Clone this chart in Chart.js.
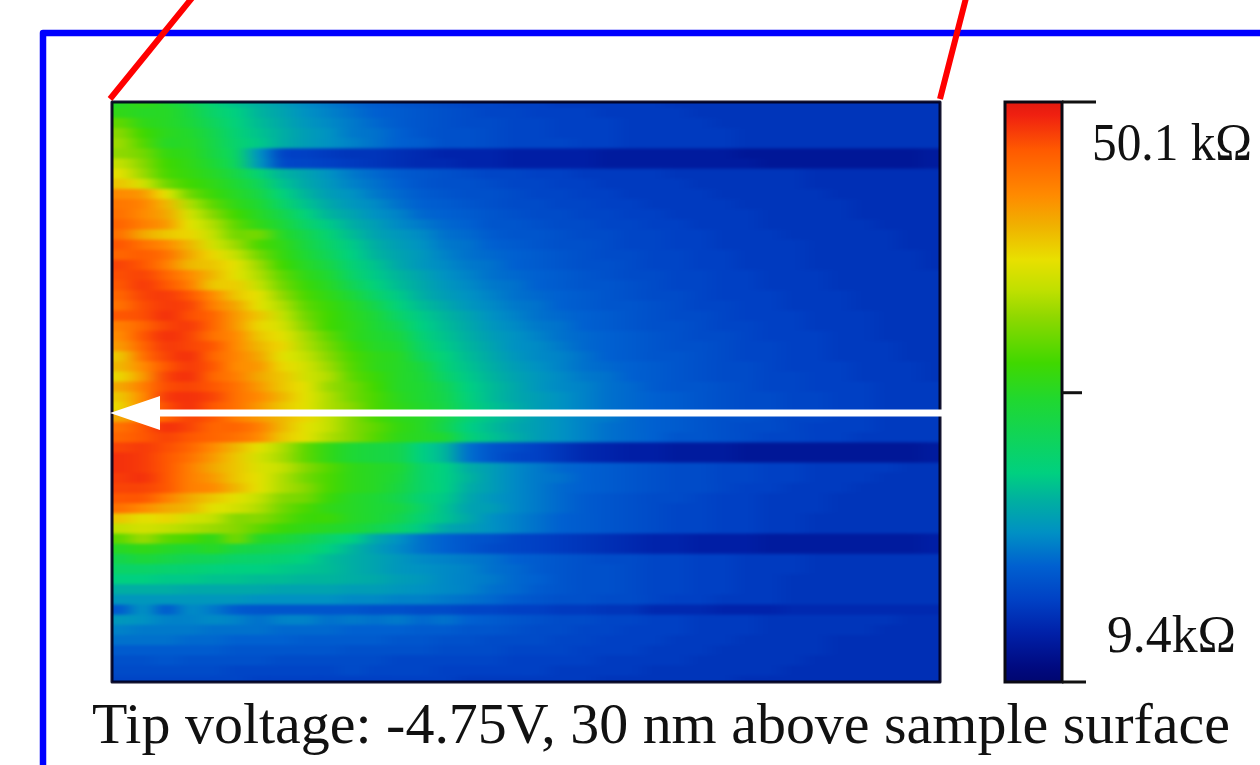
<!DOCTYPE html>
<html>
<head>
<meta charset="utf-8">
<title>Tip voltage map</title>
<script src="https://cdn.jsdelivr.net/npm/chart.js@4"></script>
<style>
  html, body { margin: 0; padding: 0; background: #fff; overflow: hidden; }
  canvas { position: absolute; top: 0; }
  #heat { left: 0; }
  #bar { left: 1000px; }
</style>
</head>
<body>
<canvas id="heat" width="1260" height="765"></canvas>
<canvas id="bar" width="260" height="765"></canvas>
<script>
// colour scale, value 0-100 from bottom to top
const stopValues = [0, 2.6, 8.4, 14, 20, 25.7, 31.4, 36, 48.6, 55, 63, 67.6, 72.8, 78.8, 84, 91.7, 97.8, 100];
const stopColors = ["#000670", "#000a80", "#0020a8", "#0040c4", "#0060d0", "#0090c4", "#00b0a0", "#00d080", "#20d830", "#40d800",
  "#90d800", "#c0e000", "#e8e000", "#f0b000", "#ff8a00", "#ff5a00", "#f02010", "#e01a10"];

const captionText = "Tip voltage: -4.75V, 30 nm above sample surface";
const barMin = 9.4;
const barMax = 50.1;
const barTicks = [9.4, 29.7, 50.1];
const barTickLengths = [24, 20, 34];

// one line per scan row, top to bottom, value on the 0-100 colour scale
const heatRows = [
  [50,52,49,44,38,34,31,28,25,23,21,19,18,17,16,15,15,14,14,13,13,13,13,13,12,12,12,12,12,12,12,12,12,12,12,12],
  [52,50,50,46,40,36,32,29,26,24,22,20,19,18,17,16,15,15,14,14,14,13,13,13,13,12,12,12,12,12,12,12,12,12,12,12],
  [58,52,50,47,42,37,33,30,27,25,23,21,19,18,17,16,16,15,15,14,14,14,13,13,13,13,12,12,12,12,12,12,12,12,12,12],
  [62,55,51,49,44,38,34,31,28,26,23,22,20,18,17,17,16,15,15,14,14,14,13,13,13,13,13,12,12,12,12,12,12,12,12,12],
  [64,57,50,50,45,39,35,31,28,26,24,22,20,19,17,17,16,15,15,15,14,14,13,13,13,13,13,12,12,12,12,12,12,12,12,12],
  [63,60,53,51,46,40,26,15,14,13,12,12,11,10,9,9,9,8,8,8,8,7,7,7,7,7,7,6,6,6,6,6,6,6,6,7],
  [68,62,55,52,48,41,27,16,15,14,13,12,11,10,10,9,9,8,8,8,8,7,7,7,7,7,7,7,6,6,6,6,6,6,6,7],
  [72,64,56,53,50,45,38,32,29,26,23,21,19,18,17,16,15,15,14,14,13,13,13,13,12,12,12,12,12,12,11,11,11,11,11,11],
  [76,70,60,55,52,48,42,34,30,27,24,22,20,18,17,17,16,15,15,14,14,13,13,13,13,12,12,12,12,12,11,11,11,11,11,11],
  [84,82,72,60,54,50,45,37,32,28,26,23,21,19,18,17,17,16,15,15,14,14,13,13,13,13,12,12,12,12,12,11,11,11,11,11],
  [87,85,78,66,58,52,48,40,34,30,27,25,22,20,19,18,17,16,16,15,15,14,14,13,13,13,13,12,12,12,12,12,11,11,11,11],
  [88,84,80,70,62,55,50,44,37,32,29,26,24,21,20,19,18,17,16,16,15,15,14,14,13,13,13,13,12,12,12,12,11,11,11,11],
  [90,86,82,72,66,58,52,47,40,35,31,28,25,23,21,20,18,18,17,16,16,15,15,14,14,13,13,13,12,12,12,12,12,11,11,11],
  [88,80,76,74,68,60,60,50,44,38,33,29,27,25,22,21,19,18,18,17,16,16,15,15,14,14,13,13,13,12,12,12,12,12,11,11],
  [92,88,84,78,70,64,56,52,46,40,35,31,28,26,23,22,20,19,18,17,17,16,15,15,14,14,13,13,13,13,12,12,12,12,11,11],
  [90,91,88,80,74,68,60,53,48,42,36,32,29,27,24,22,21,20,19,18,17,16,16,15,15,14,14,13,13,13,12,12,12,12,12,11],
  [94,92,86,78,76,72,64,55,50,45,38,34,30,27,25,23,22,20,19,18,17,17,16,15,15,14,14,13,13,13,12,12,12,12,12,11],
  [93,94,90,84,78,72,66,58,52,48,40,35,32,29,26,24,22,21,20,19,18,17,16,16,15,15,14,14,13,13,13,12,12,12,12,12],
  [92,95,92,86,76,75,68,60,54,50,43,37,33,30,27,25,23,22,20,19,18,18,17,16,15,15,14,14,13,13,13,12,12,12,12,12],
  [90,94,95,92,84,76,72,63,56,52,47,40,35,31,28,26,24,22,21,20,19,18,17,16,16,15,14,14,14,13,13,13,12,12,12,12],
  [88,93,95,94,86,80,72,66,58,54,50,44,37,33,30,27,25,23,22,20,19,18,18,17,16,15,15,14,14,13,13,13,12,12,12,12],
  [92,93,96,93,90,82,76,68,60,55,51,47,40,35,32,29,26,24,22,21,20,19,18,17,16,16,15,14,14,14,13,13,13,12,12,12],
  [86,90,94,95,90,82,74,70,62,55,52,48,43,36,33,30,27,25,23,22,20,19,18,17,17,16,15,15,14,14,13,13,13,12,12,12],
  [84,92,96,94,88,84,76,72,65,58,52,49,46,38,34,31,28,26,24,22,21,20,19,18,17,16,16,15,14,14,14,13,13,12,12,12],
  [82,90,95,94,92,84,78,74,66,60,54,50,48,40,35,32,29,26,25,23,21,20,19,18,17,17,16,15,15,14,14,13,13,13,12,12],
  [76,88,94,96,90,85,80,72,68,62,56,52,50,42,37,33,30,27,25,24,22,20,19,18,18,17,16,15,15,14,14,13,13,13,12,12],
  [78,84,92,95,92,84,82,74,70,64,57,52,50,46,38,34,31,28,26,24,22,21,20,19,18,17,16,16,15,14,14,14,13,13,13,12],
  [74,82,94,96,90,86,80,76,70,66,58,54,50,47,40,35,32,29,27,25,23,22,20,19,18,17,16,16,15,15,14,14,13,13,13,12],
  [80,86,93,94,92,88,82,76,72,64,60,55,50,48,43,36,33,30,27,25,24,22,21,19,18,18,17,16,15,15,14,14,14,13,13,13],
  [76,84,95,96,94,88,84,78,72,66,60,56,51,48,44,37,33,30,28,26,24,22,21,20,19,18,17,16,16,15,15,14,14,13,13,13],
  [74,84,93,96,92,88,82,76,72,66,62,56,52,49,45,38,34,31,28,26,24,22,21,20,19,18,17,16,16,15,15,14,14,13,13,13],
  [80,86,90,94,92,86,82,78,74,68,62,56,52,50,45,38,34,31,28,26,24,23,21,20,19,18,17,17,16,15,15,14,14,13,13,13],
  [88,92,96,94,90,90,86,78,72,68,62,58,53,50,44,36,33,30,28,26,24,22,21,20,19,18,17,16,16,15,14,14,14,13,13,13],
  [90,92,94,92,90,88,84,76,72,66,62,57,52,50,48,38,34,31,28,26,24,22,21,20,18,18,17,16,15,15,14,14,13,13,13,13],
  [94,95,93,90,84,78,72,66,58,52,48,46,44,36,32,22,18,16,14,12,10,9,8,8,7,7,7,6,6,6,6,6,6,6,6,7],
  [96,95,92,88,82,76,70,65,58,52,48,46,44,36,32,22,18,15,14,12,10,9,8,8,7,7,7,6,6,6,6,6,6,6,6,7],
  [96,95,92,86,80,76,71,68,62,57,52,50,48,40,36,31,28,25,23,21,20,19,18,17,16,16,15,15,14,14,13,13,13,13,12,12],
  [95,96,92,86,82,76,72,66,60,56,52,50,47,40,36,32,28,25,23,22,20,19,18,17,16,16,15,15,14,14,13,13,13,12,12,12],
  [94,94,92,86,84,78,72,66,62,56,52,50,46,40,36,31,28,25,23,21,20,19,18,17,16,16,15,14,14,13,13,13,12,12,12,12],
  [92,92,86,80,76,72,68,62,60,54,50,48,44,38,35,30,27,25,23,21,19,18,17,16,16,15,14,14,13,13,13,12,12,12,12,12],
  [88,84,80,78,72,70,66,60,56,52,50,48,46,40,34,29,28,25,23,21,19,18,17,16,15,15,14,14,13,13,13,12,12,12,12,12],
  [76,72,74,70,68,62,62,58,54,54,50,48,44,38,34,30,26,24,22,20,19,18,17,16,15,15,14,14,13,13,12,12,12,12,12,12],
  [68,70,68,66,64,62,58,54,52,50,48,44,40,35,30,28,26,24,22,20,19,18,17,16,15,15,14,14,13,13,12,12,12,12,12,12],
  [58,64,58,56,52,60,50,48,44,40,36,30,26,22,20,18,17,15,14,13,12,11,10,9,9,8,8,8,7,7,7,7,7,7,7,8],
  [50,52,50,48,50,46,44,42,40,36,32,28,25,22,20,18,16,15,14,13,12,11,10,9,9,8,8,8,7,7,7,7,7,7,7,8],
  [44,47,45,43,42,40,39,38,36,33,31,29,27,25,24,23,22,20,19,18,17,16,16,15,15,14,14,13,13,13,12,12,12,12,12,12],
  [40,40,39,38,37,36,36,35,34,33,31,29,27,26,25,24,22,21,19,18,17,17,16,15,15,14,14,13,13,13,12,12,12,12,12,12],
  [36,36,35,35,34,34,33,33,32,32,31,30,28,27,25,24,23,21,20,18,17,17,16,15,15,14,14,13,13,12,12,12,12,12,12,12],
  [31,31,31,30,30,30,30,29,29,29,28,28,27,26,25,24,22,21,19,18,17,17,16,15,15,14,14,13,13,12,12,12,12,12,12,12],
  [27,27,27,27,27,27,26,26,26,26,25,25,24,24,23,22,21,19,18,17,17,16,16,15,14,14,13,13,13,12,12,12,12,12,12,12],
  [19,26,19,25,23,19,18,18,18,18,18,17,17,16,16,15,15,14,14,13,13,12,12,10,10,10,9,9,9,10,10,10,10,10,10,10],
  [27,26,24,24,25,24,22,24,24,22,23,22,23,21,22,20,19,18,17,16,16,15,15,14,14,13,13,13,12,12,12,12,12,12,11,11],
  [24,23,23,23,22,22,22,21,21,21,20,20,20,19,19,18,18,17,16,16,15,15,14,14,14,13,13,13,12,12,12,12,12,11,11,11],
  [22,22,22,21,21,20,20,20,19,19,19,19,18,18,17,17,16,16,16,15,15,14,14,14,13,13,13,12,12,12,12,11,11,11,11,11],
  [19,19,19,19,19,18,18,18,18,18,17,17,17,17,16,16,16,15,15,15,14,14,14,13,13,13,12,12,12,12,12,11,11,11,11,11],
  [17,17,18,17,17,17,17,16,16,16,16,16,15,15,15,15,15,14,14,14,14,13,13,13,13,12,12,12,12,12,11,11,11,11,11,11],
  [16,16,16,16,16,15,15,15,15,15,16,15,15,15,14,14,14,14,14,13,13,13,13,12,12,12,12,12,12,11,11,11,11,11,11,11],
  [15,15,15,15,15,15,14,14,14,14,14,14,14,14,14,13,13,13,13,13,13,12,12,12,12,12,12,11,11,11,11,11,11,11,11,11],
];

const rowLabels = heatRows.map((r, i) => String(i));
const colCount = heatRows[0].length;

function hexToRgb(h) {
  return [parseInt(h.slice(1, 3), 16), parseInt(h.slice(3, 5), 16), parseInt(h.slice(5, 7), 16)];
}

function colorFor(v) {
  let i = 0;
  while (i < stopValues.length - 2 && v > stopValues[i + 1]) i++;
  const t = (v - stopValues[i]) / (stopValues[i + 1] - stopValues[i]);
  const a = hexToRgb(stopColors[i]);
  const b = hexToRgb(stopColors[i + 1]);
  const c = a.map((n, k) => Math.round(n + (b[k] - n) * t));
  return "rgb(" + c.join(",") + ")";
}

// the source image is a soft upscale, so smooth the cells once they are drawn:
// columns get interpolated sideways, then a small blur over everything
const softenPlugin = {
  id: "soften",
  afterDatasetsDraw(chart) {
    const a = chart.chartArea;
    const narrow = document.createElement("canvas");
    narrow.width = colCount;
    narrow.height = a.height;
    const nctx = narrow.getContext("2d");
    nctx.imageSmoothingEnabled = false;
    nctx.drawImage(chart.canvas, a.left, a.top, a.width, a.height, 0, 0, colCount, a.height);
    const ctx = chart.ctx;
    ctx.save();
    ctx.beginPath();
    ctx.rect(a.left, a.top, a.width, a.height);
    ctx.clip();
    ctx.imageSmoothingEnabled = true;
    ctx.imageSmoothingQuality = "high";
    ctx.filter = "blur(1.8px)";
    ctx.drawImage(narrow, a.left - 4, a.top - 4, a.width + 8, a.height + 8);
    ctx.restore();
  },
};

const overlayPlugin = {
  id: "overlay",
  afterDraw(chart) {
    const ctx = chart.ctx;
    const a = chart.chartArea;
    ctx.save();
    // blue frame
    ctx.strokeStyle = "#0000ff";
    ctx.lineWidth = 6.5;
    ctx.lineJoin = "round";
    ctx.beginPath();
    ctx.moveTo(43, 765);
    ctx.lineTo(43, 33);
    ctx.lineTo(1260, 33);
    ctx.stroke();
    // red zoom lines
    ctx.strokeStyle = "#ff0000";
    ctx.lineWidth = 6;
    ctx.beginPath();
    ctx.moveTo(a.left - 2, a.top - 3);
    ctx.lineTo(192, -2);
    ctx.moveTo(a.right, a.top - 3);
    ctx.lineTo(966, -2);
    ctx.stroke();
    // plot border
    ctx.strokeStyle = "rgba(0,0,30,0.92)";
    ctx.lineWidth = 3;
    ctx.strokeRect(a.left, a.top, a.width, a.height);
    // white arrow
    ctx.strokeStyle = "#ffffff";
    ctx.fillStyle = "#ffffff";
    ctx.lineWidth = 7;
    ctx.beginPath();
    ctx.moveTo(a.right + 3, 413);
    ctx.lineTo(150, 413);
    ctx.stroke();
    ctx.beginPath();
    ctx.moveTo(a.left - 2, 413);
    ctx.lineTo(160, 396);
    ctx.lineTo(160, 430);
    ctx.closePath();
    ctx.fill();
    // caption
    ctx.fillStyle = "#111111";
    ctx.font = "58px 'Liberation Serif'";
    ctx.textBaseline = "alphabetic";
    ctx.fillText(captionText, 92, 743, 1138);
    ctx.restore();
  },
};

new Chart(document.getElementById("heat"), {
  type: "bar",
  data: {
    labels: rowLabels,
    datasets: Array.from({ length: colCount }, (_, c) => ({
      label: "col " + c,
      data: heatRows.map(() => [c, c + 1]),
      backgroundColor: heatRows.map((r) => colorFor(r[c])),
      borderWidth: 0,
      grouped: false,
      barPercentage: 1,
      categoryPercentage: 1,
    })),
  },
  options: {
    indexAxis: "y",
    responsive: false,
    animation: false,
    events: [],
    layout: { padding: { left: 112, top: 102, right: 320, bottom: 83 } },
    plugins: { legend: { display: false }, tooltip: { enabled: false } },
    scales: {
      x: { type: "linear", min: 0, max: colCount, display: false },
      y: { type: "category", display: false },
    },
  },
  plugins: [softenPlugin, overlayPlugin],
});

const barPlugin = {
  id: "barAxis",
  afterDraw(chart) {
    const ctx = chart.ctx;
    const a = chart.chartArea;
    const y = chart.scales.y;
    ctx.save();
    ctx.strokeStyle = "#0a0a14";
    ctx.lineWidth = 3;
    ctx.strokeRect(a.left, a.top, a.width, a.height);
    ctx.strokeStyle = "#111111";
    ctx.lineWidth = 3;
    barTicks.forEach((t, i) => {
      const py = y.getPixelForValue(t);
      ctx.beginPath();
      ctx.moveTo(a.right, py);
      ctx.lineTo(a.right + barTickLengths[i], py);
      ctx.stroke();
    });
    ctx.fillStyle = "#111111";
    ctx.font = "52px 'Liberation Serif'";
    ctx.fillText(barMax + " k\u03a9", 92, y.getPixelForValue(barMax) + 58, 160);
    ctx.fillText(barMin + "k\u03a9", 107, y.getPixelForValue(barMin) - 30, 129);
    ctx.restore();
  },
};

new Chart(document.getElementById("bar"), {
  type: "bar",
  data: {
    labels: ["scale"],
    datasets: [{
      label: "resistance",
      data: [[barMin, barMax]],
      borderWidth: 0,
      barPercentage: 1,
      categoryPercentage: 1,
      backgroundColor(context) {
        const area = context.chart.chartArea;
        if (!area) return stopColors[0];
        const g = context.chart.ctx.createLinearGradient(0, area.bottom, 0, area.top);
        stopValues.forEach((v, i) => g.addColorStop(v / 100, stopColors[i]));
        return g;
      },
    }],
  },
  options: {
    responsive: false,
    animation: false,
    events: [],
    layout: { padding: { left: 5, top: 102, right: 198, bottom: 83 } },
    plugins: { legend: { display: false }, tooltip: { enabled: false } },
    scales: {
      x: { display: false },
      y: { type: "linear", min: barMin, max: barMax, display: false },
    },
  },
  plugins: [barPlugin],
});
</script>
</body>
</html>
